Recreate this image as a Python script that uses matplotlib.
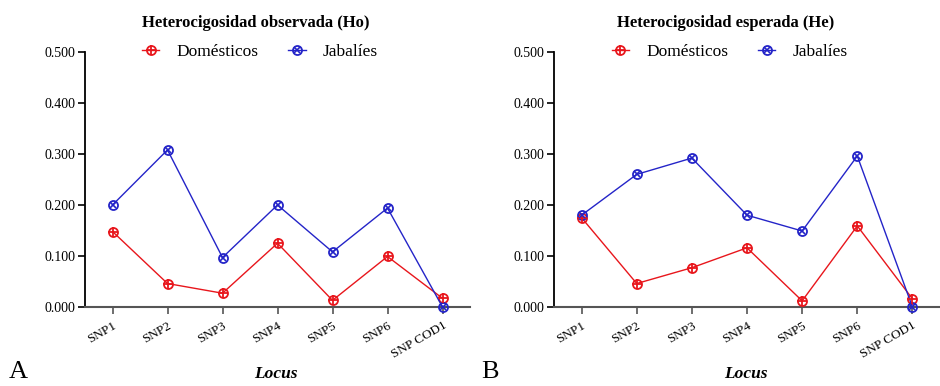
import matplotlib.pyplot as plt
from matplotlib.legend_handler import HandlerTuple

plt.rcParams['font.family'] = ['Liberation Serif', 'DejaVu Serif']

loci = ['SNP1', 'SNP2', 'SNP3', 'SNP4', 'SNP5', 'SNP6', 'SNP COD1']

# Heterocigosidad observada (Ho)
ho_domesticos = [0.148, 0.046, 0.027, 0.125, 0.013, 0.099, 0.017]
ho_jabalies = [0.200, 0.308, 0.097, 0.200, 0.108, 0.194, 0.000]

# Heterocigosidad esperada (He)
he_domesticos = [0.175, 0.046, 0.077, 0.116, 0.012, 0.159, 0.016]
he_jabalies = [0.180, 0.260, 0.292, 0.180, 0.149, 0.296, 0.000]

red = '#e8161c'
blue = '#2424c8'

fig = plt.figure(figsize=(9.4, 3.86), dpi=100)


def panel(rect, dom, jab, title, title_x, letter, letter_x, label_x):
    ax = fig.add_axes(rect)
    x = range(len(loci))
    l1, = ax.plot(x, dom, color=red, lw=1.0, marker='o', ms=6.5,
                  mfc='none', mew=1.3, clip_on=False, zorder=3)
    p1, = ax.plot(x, dom, ls='none', color=red, marker='+', ms=6.5,
                  mew=1.3, clip_on=False, zorder=4)
    l2, = ax.plot(x, jab, color=blue, lw=1.0, marker='o', ms=6.5,
                  mfc='none', mew=1.3, clip_on=False, zorder=3)
    p2, = ax.plot(x, jab, ls='none', color=blue, marker='x', ms=4.5,
                  mew=1.2, clip_on=False, zorder=4)
    ax.set_xlim(-0.5, 6.5)
    ax.set_ylim(0, 0.5)
    ax.set_yticks([0, 0.1, 0.2, 0.3, 0.4, 0.5])
    ax.set_yticklabels(['%.3f' % v for v in ax.get_yticks()], fontsize=10)
    ax.set_xticks(list(x))
    ax.set_xticklabels(loci, rotation=30, ha='right', rotation_mode='anchor',
                       fontsize=9.5)
    ax.spines['top'].set_visible(False)
    ax.spines['right'].set_visible(False)
    ax.spines['left'].set_linewidth(1.3)
    ax.spines['bottom'].set_linewidth(1.5)
    ax.spines['bottom'].set_color('#555555')
    ax.tick_params(direction='out', length=5, width=1.2, pad=2)
    ax.tick_params(axis='x', colors='#555555', labelcolor='black', pad=4)
    ax.legend([(l1, p1), (l2, p2)], ['Domésticos', 'Jabalíes'],
              handler_map={tuple: HandlerTuple(ndivide=1, pad=0)},
              ncol=2, frameon=False, fontsize=12.5, loc='center',
              bbox_to_anchor=(0.455, 1.0), handlelength=1.0,
              columnspacing=1.7, handletextpad=1.0)
    fig.text(title_x, 0.94, title, ha='center', va='center',
             fontsize=12, fontweight='bold')
    fig.text(label_x, 0.032, 'Locus', ha='center',
             va='center', fontsize=12.5, fontweight='bold', style='italic')
    fig.text(letter_x, 0.008, letter, ha='left', va='bottom', fontsize=19)


panel([85 / 940, 0.2047, 385 / 940, 0.6606], ho_domesticos, ho_jabalies,
      'Heterocigosidad observada (Ho)', 256 / 940, 'A', 9 / 940, 276 / 940)
panel([554 / 940, 0.2047, 386 / 940, 0.6606], he_domesticos, he_jabalies,
      'Heterocigosidad esperada (He)', 726 / 940, 'B', 481 / 940, 746 / 940)

plt.savefig('out.png', dpi=100)
plt.close()
